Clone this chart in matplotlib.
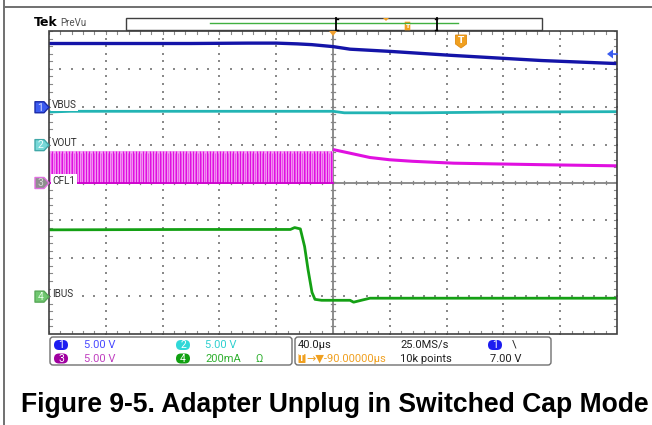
import numpy as np
import matplotlib
matplotlib.use('Agg')
import matplotlib.pyplot as plt
from matplotlib.patches import Polygon, FancyBboxPatch, Rectangle

# ---------------- data ----------------
US_PER_DIV = 40.0

# CH1 VBUS, 5 V/div, ground marker at +2 div
vbus_t = [-200, -150, -100, -60, -40, -25, -15, 0, 12, 41, 82, 147, 200]
vbus_v = [8.35, 8.35, 8.35, 8.4, 8.4, 8.3, 8.2, 7.94, 7.6, 7.3, 6.8, 6.1, 5.7]

# CH2 VOUT, 5 V/div, ground marker at +1 div
vout_t = [-200, -185, -100, 0, 8, 60, 120, 200]
vout_v = [4.3, 4.4, 4.4, 4.4, 4.2, 4.2, 4.3, 4.35]

# CH3 CFL1, 5 V/div, ground marker at 0 div
cfl1_high_v = 4.2
cfl1_low_v = 0.0
cfl1_switch_period_us = 2.36
cfl1_t = [0, 10, 26, 40, 56, 85, 147, 200]
cfl1_v = [4.35, 3.95, 3.3, 3.0, 2.8, 2.55, 2.35, 2.2]

# CH4 IBUS, 200 mA/div, ground marker at -3 div
ibus_t = [-200, -100, -30, -27, -23, -20, -17.6, -14.8, -12.7, -8, 12, 14.5, 21, 26, 60, 200]
ibus_ma = [350, 352, 352, 362, 355, 262, 141, 20, -17, -22, -22, -32, -20, -11, -11, -11]

channels = ["VBUS", "VOUT", "CFL1", "IBUS"]
ch_offsets = [2, 1, 0, -3]
ch_scales = [5.0, 5.0, 5.0, 200.0]

status_row1 = ["5.00 V", "5.00 V"]
status_row2 = ["5.00 V", "200mA"]
timebase = "40.0\u00b5s"
sample_rate = "25.0MS/s"
trig_pos = "\u2192\u25bc-90.00000\u00b5s"
record = "10k points"
trig_level = "7.00 V"
caption = "Figure 9-5. Adapter Unplug in Switched Cap Mode"

# ---------------- figure ----------------
W, H = 652, 425
fig = plt.figure(figsize=(W / 100, H / 100), dpi=100)
PX_L, PX_R, PX_T, PX_B = 49, 617, 31, 334
ax = fig.add_axes([PX_L / W, 1 - PX_B / H, (PX_R - PX_L) / W, (PX_B - PX_T) / H])
ax.set_xlim(-5, 5)
ax.set_ylim(-4, 4)
ax.axis('off')

def dx(t):
    return np.asarray(t, float) / US_PER_DIV

def dy(v, k):
    return ch_offsets[k] + np.asarray(v, float) / ch_scales[k]

# graticule dots
gcol = '#8a8a8a'
for gx in range(-4, 5):
    if gx == 0:
        continue
    yy = np.arange(-4, 4.001, 0.2)
    ax.scatter(np.full_like(yy, gx), yy, s=2.0, c=gcol, lw=0, zorder=1, marker='s')
for gy in range(-3, 4):
    if gy == 0:
        continue
    xx = np.arange(-5, 5.001, 0.2)
    ax.scatter(xx, np.full_like(xx, gy), s=2.0, c=gcol, lw=0, zorder=1, marker='s')

# centre cross with ticks
ccol = '#858585'
ax.axhline(0, color=ccol, lw=1.3, zorder=1)
ax.axvline(0, color=ccol, lw=1.3, zorder=1)
for xx in np.arange(-5, 5.001, 0.2):
    ax.plot([xx, xx], [-0.05, 0.05], color=ccol, lw=0.9, zorder=1)
for yy in np.arange(-4, 4.001, 0.2):
    ax.plot([-0.035, 0.035], [yy, yy], color=ccol, lw=0.9, zorder=1)
# border ticks
bcol = '#404040'
for xx in np.arange(-5, 5.001, 0.2):
    ax.plot([xx, xx], [4, 3.93], color=gcol, lw=0.8, zorder=1)
    ax.plot([xx, xx], [-4, -3.93], color=gcol, lw=0.8, zorder=1)
for yy in np.arange(-4, 4.001, 0.2):
    ax.plot([-5, -4.95], [yy, yy], color=gcol, lw=0.8, zorder=1)
    ax.plot([5, 4.95], [yy, yy], color=gcol, lw=0.8, zorder=1)
ax.add_patch(Rectangle((-5, -4), 10, 8, fill=False, ec=bcol, lw=1.2, zorder=6, clip_on=False))

# CH3 switching part
edges = np.arange(-200, 0, cfl1_switch_period_us)
ax.fill_between([-5, 0], dy(cfl1_low_v, 2), dy(cfl1_high_v, 2), color='#f4a6f4', lw=0, zorder=2)
ax.vlines(dx(edges), dy(cfl1_low_v, 2), dy(cfl1_high_v, 2), color='#e010e0', lw=0.9, zorder=3)
ax.vlines(dx(edges + cfl1_switch_period_us / 2), dy(cfl1_low_v, 2), dy(cfl1_high_v, 2) - 0.05,
          color='#ea50ea', lw=0.7, zorder=3)
ax.plot([-5, 0], [dy(cfl1_low_v, 2)] * 2, color='#d000d0', lw=1.3, zorder=3)
ax.plot(dx(cfl1_t), dy(cfl1_v, 2), color='#e010e0', lw=2.2, zorder=3, solid_capstyle='butt')

ax.plot(dx(vout_t), dy(vout_v, 1), color='#22b4b4', lw=2.0, zorder=3)
ax.plot(dx(vbus_t), dy(vbus_v, 0), color='#1414a8', lw=2.4, zorder=4)
ax.plot(dx(ibus_t), dy(ibus_ma, 3), color='#14a014', lw=2.0, zorder=4)

# ---------------- overlay in pixels ----------------
ov = fig.add_axes([0, 0, 1, 1])
ov.set_xlim(0, W)
ov.set_ylim(H, 0)
ov.axis('off')
ov.set_facecolor('none')

ov.plot([4, W], [7, 7], color='#707070', lw=1.4)
ov.plot([4, 4], [0, H], color='#707070', lw=1.4)

ov.text(34, 26, "Tek", fontsize=9.0, fontweight='bold', family='DejaVu Sans', color='black', va='baseline')
ov.text(60, 26, "PreVu", fontsize=7.0, family='Roboto', color='#505050', va='baseline')

# PreVu bar
ov.add_patch(Rectangle((126, 18), 416, 12, fill=False, ec='#404040', lw=1.0))
ov.plot([210, 458], [23, 23], color='#40b040', lw=1.0)
for bx, sgn in [(336, 1), (437, -1)]:
    ov.plot([bx, bx], [18, 30], color='black', lw=1.3)
    ov.plot([bx, bx + 2 * sgn], [18.5, 18.5], color='black', lw=1.0)
    ov.plot([bx, bx + 2 * sgn], [29.5, 29.5], color='black', lw=1.0)
ov.add_patch(Polygon([[383, 18], [389, 18], [386, 21]], closed=True, fc='#f0a020', ec='none'))
ov.add_patch(FancyBboxPatch((405, 22), 5, 8, boxstyle='round,pad=0.3', fc='#f0a020', ec='none'))
ov.text(407.5, 26.5, "T", fontsize=4.5, color='white', ha='center', va='center', fontweight='bold')

# trigger position marker
ov.add_patch(Polygon([[329, 31], [337, 31], [333, 36]], closed=True, fc='#f0a030', ec='none', zorder=7))
# trigger "T" marker
ov.add_patch(Polygon([[455.5, 35], [466.5, 35], [466.5, 44], [461, 48], [455.5, 44]], closed=True,
                     fc='#f0a020', ec='#e08a10', lw=0.6, zorder=7))
ov.text(461, 40.5, "T", fontsize=6.5, color='white', ha='center', va='center', fontweight='bold', zorder=8)
# trigger level arrow (right)
ov.add_patch(Polygon([[607, 54], [613, 49.5], [613, 58.5]], closed=True, fc='#3a5cf0', ec='none', zorder=7))
ov.plot([612, 617], [54, 54], color='#3a5cf0', lw=1.2, zorder=7)

# channel markers
mk_face = ['#3c5cf0', '#78d8d8', '#8e8e8e', '#70c870']
mk_edge = ['#1a2aa8', '#40a8a8', '#e070e0', '#58a858']
mk_txt = ['#dfe4ff', '#f2ffff', '#d8d8d8', '#e6ffe6']
for k, name in enumerate(channels):
    ypx = 183 - ch_offsets[k] * 37.875
    x0 = 35
    ov.add_patch(Polygon([[x0, ypx - 5.5], [x0 + 9, ypx - 5.5], [x0 + 14, ypx], [x0 + 9, ypx + 5.5],
                          [x0, ypx + 5.5]], closed=True, fc=mk_face[k], ec=mk_edge[k], lw=1.0,
                         joinstyle='round', zorder=7))
    ov.text(x0 + 5.5, ypx + 0.3, str(k + 1), fontsize=7.5, family='Roboto', color=mk_txt[k],
            ha='center', va='center', zorder=8)
    ov.text(52, ypx - 2.5, name, fontsize=7.2, family='Roboto', color='#303030',
            ha='left', va='center', zorder=8,
            bbox=dict(boxstyle='square,pad=0.15', fc='white', ec='none'))

# status boxes
for (bx0, bx1) in [(50, 292), (295, 551)]:
    ov.add_patch(FancyBboxPatch((bx0 + 3, 340), bx1 - bx0 - 6, 22, boxstyle='round,pad=3',
                                fc='white', ec='#707070', lw=1.0))

def pill(xc, yc, col, txt):
    ov.add_patch(FancyBboxPatch((xc - 5.5, yc - 3.5), 11, 7, boxstyle='round,pad=1.5,rounding_size=5',
                                fc=col, ec='none', zorder=7))
    ov.text(xc, yc + 0.3, txt, fontsize=7.5, family='Roboto', color='white', ha='center', va='center', zorder=8)

sfont = dict(fontsize=8.0, family='Roboto', va='center')
r1, r2 = 345, 358.5
pill(61, r1, '#1c1cf0', '1')
ov.text(84, r1, status_row1[0], color='#4a4aff', **sfont)
pill(183, r1, '#30d8d8', '2')
ov.text(205, r1, status_row1[1], color='#30d0d0', **sfont)
pill(61, r2, '#a000a0', '3')
ov.text(84, r2, status_row2[0], color='#c040c0', **sfont)
pill(183, r2, '#10a010', '4')
ov.text(205, r2, status_row2[1], color='#30b030', **sfont)
ov.text(255, r2, "\u03a9", color='#30b030', **sfont)

ov.text(298, r1, timebase, color='#202020', **sfont)
ov.text(400, r1, sample_rate, color='#202020', **sfont)
pill(495, r1, '#1c1cf0', '1')
ov.text(512, r1, "\\", color='#202020', **sfont)
ov.add_patch(FancyBboxPatch((299, r2 - 4), 6, 8, boxstyle='round,pad=0.5', fc='#f0a020', ec='none', zorder=7))
ov.text(302, r2 + 0.3, "T", fontsize=5.5, color='white', ha='center', va='center', fontweight='bold', zorder=8)
ov.text(306, r2, trig_pos, color='#f0a020', fontsize=8.0, family=['Roboto', 'DejaVu Sans'], va='center')
ov.text(400, r2, record, color='#202020', **sfont)
ov.text(490, r2, trig_level, color='#202020', **sfont)

ov.text(21, 412, caption, fontsize=19.1, fontweight='bold', family='Liberation Sans',
        color='black', va='baseline', ha='left')

fig.savefig('out.png', dpi=100)
